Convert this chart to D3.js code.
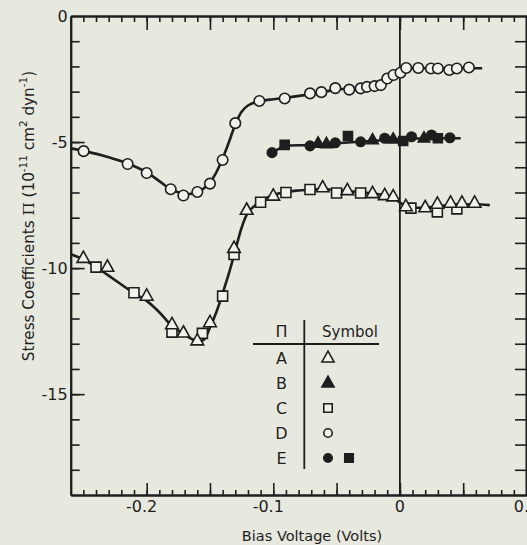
<!DOCTYPE html>
<html><head><meta charset="utf-8">
<script src="https://cdn.jsdelivr.net/npm/d3@7"></script>
<style>
html,body{margin:0;padding:0;background:#e7e8de;}
svg{display:block;}
text{font-family:"DejaVu Sans","Noto Sans",sans-serif;fill:#1e1e1e;}
</style></head>
<body>
<svg id="c" width="527" height="545"></svg>
<script>
// ---- data (bias voltage V, stress coefficient 1e-11 cm^2/dyn) ----
const seriesA = [ // open triangles
  [-0.250,-9.61],[-0.231,-9.96],[-0.200,-11.11],[-0.180,-12.24],[-0.171,-12.57],
  [-0.160,-12.88],[-0.150,-12.16],[-0.131,-9.21],[-0.121,-7.70],[-0.100,-7.14],
  [-0.061,-6.81],[-0.0415,-6.92],[-0.0216,-7.04],[-0.012,-7.12],[-0.0053,-7.17],
  [0.0047,-7.56],[0.020,-7.60],[0.0296,-7.46],[0.040,-7.42],[0.049,-7.42],[0.059,-7.42]
];
const seriesB = [ // filled triangles
  [-0.0646,-5.05],[-0.058,-5.07],[-0.0216,-4.92],[-0.0053,-4.89],[0.019,-4.85]
];
const seriesC = [ // open squares
  [-0.240,-9.96],[-0.210,-10.98],[-0.180,-12.54],[-0.156,-12.59],[-0.140,-11.11],
  [-0.131,-9.46],[-0.110,-7.39],[-0.090,-7.00],[-0.071,-6.88],[-0.050,-7.02],
  [-0.031,-7.02],[0.0087,-7.62],[0.0296,-7.77],[0.045,-7.65]
];
const seriesD = [ // open circles
  [-0.2498,-5.36],[-0.215,-5.87],[-0.200,-6.23],[-0.181,-6.87],[-0.171,-7.12],
  [-0.160,-6.98],[-0.150,-6.65],[-0.140,-5.71],[-0.130,-4.25],[-0.111,-3.37],
  [-0.091,-3.27],[-0.071,-3.07],[-0.062,-3.02],[-0.051,-2.86],[-0.040,-2.92],
  [-0.031,-2.87],[-0.026,-2.81],[-0.020,-2.78],[-0.015,-2.74],[-0.010,-2.48],
  [-0.005,-2.34],[0.0005,-2.25],[0.005,-2.06],[0.0145,-2.06],[0.0245,-2.08],
  [0.030,-2.08],[0.039,-2.14],[0.045,-2.08],[0.0545,-2.04]
];
const seriesE_circles = [ // filled circles
  [-0.101,-5.42],[-0.071,-5.15],[-0.051,-5.03],[-0.031,-4.99],[-0.012,-4.85],
  [0.0092,-4.79],[0.025,-4.72],[0.0395,-4.83]
];
const seriesE_squares = [ // filled squares
  [-0.091,-5.11],[-0.041,-4.76],[0.0026,-4.96],[0.030,-4.85]
];
// smooth drawn curves
const fitAC = [
  [-0.26,-9.45],[-0.25,-9.65],[-0.24,-9.95],[-0.23,-10.3],[-0.22,-10.65],[-0.21,-11.0],
  [-0.20,-11.3],[-0.19,-11.75],[-0.18,-12.3],[-0.17,-12.65],[-0.16,-12.9],[-0.155,-12.85],
  [-0.15,-12.35],[-0.145,-11.75],[-0.14,-11.0],[-0.135,-10.2],[-0.13,-9.3],[-0.125,-8.4],
  [-0.12,-7.8],[-0.11,-7.35],[-0.10,-7.1],[-0.09,-6.98],[-0.08,-6.92],[-0.07,-6.88],
  [-0.06,-6.87],[-0.05,-6.9],[-0.04,-6.95],[-0.03,-7.0],[-0.02,-7.05],[-0.01,-7.12],
  [-0.005,-7.2],[0.0,-7.4],[0.005,-7.55],[0.01,-7.6],[0.02,-7.6],[0.03,-7.55],
  [0.04,-7.5],[0.05,-7.48],[0.06,-7.47],[0.071,-7.5]
];
const fitD = [
  [-0.26,-5.25],[-0.25,-5.35],[-0.23,-5.6],[-0.215,-5.85],[-0.2,-6.2],[-0.19,-6.55],
  [-0.18,-6.9],[-0.17,-7.05],[-0.16,-7.0],[-0.15,-6.6],[-0.145,-6.2],[-0.14,-5.65],
  [-0.135,-5.0],[-0.13,-4.3],[-0.125,-3.8],[-0.12,-3.55],[-0.11,-3.37],[-0.10,-3.3],
  [-0.09,-3.24],[-0.07,-3.1],[-0.05,-2.92],[-0.03,-2.85],[-0.02,-2.78],[-0.01,-2.55],
  [0.0,-2.25],[0.005,-2.12],[0.01,-2.07],[0.03,-2.08],[0.05,-2.06],[0.065,-2.07]
];
const fitBE = [
  [-0.101,-5.42],[-0.095,-5.25],[-0.09,-5.15],[-0.07,-5.12],[-0.05,-5.05],
  [-0.02,-4.95],[0.0,-4.88],[0.02,-4.85],[0.048,-4.85]
];
const xMajorTicks = [-0.2,-0.15,-0.1,-0.05,0,0.05,0.1];
const xTickLabels = [[-0.2,"-0.2"],[-0.1,"-0.1"],[0,"0"],[0.1,"0.1"]];
const yMajorTicks = [0,-5,-10,-15];
const yTickLabels = ["0","-5","-10","-15"];
const legendLetters = ["A","B","C","D","E"];
const legendSymbols = [["tri-open"],["tri-fill"],["sq-open"],["circ-open"],["circ-fill","sq-fill"]];

// ---- drawing ----
const ink = "#1e1e1e";
const svg = d3.select("#c");
const x = d3.scaleLinear().domain([-0.26, 0.1]).range([70.7, 526.5]);
const y = d3.scaleLinear().domain([-19, 0]).range([495, 16]);
const xMinor = d3.range(-25, 10).map(i => i / 100);
const yMinor = d3.range(-18, 0);

function styleAxis(g){
  g.select(".domain").attr("stroke", ink).attr("stroke-width", 2);
  g.selectAll(".tick line").attr("stroke", ink).attr("stroke-width", 1.6);
}
// bottom
svg.append("g").attr("transform", `translate(0,${y(-19)})`)
  .call(d3.axisBottom(x).tickValues(xMinor).tickSize(-5).tickSizeOuter(0).tickFormat(""))
  .call(styleAxis);
svg.append("g").attr("transform", `translate(0,${y(-19)})`)
  .call(d3.axisBottom(x).tickValues(xMajorTicks).tickSize(-12).tickSizeOuter(0).tickFormat(""))
  .call(styleAxis);
// top
svg.append("g").attr("transform", `translate(0,${y(0)})`)
  .call(d3.axisTop(x).tickValues(xMinor).tickSize(-6).tickSizeOuter(0).tickFormat(""))
  .call(styleAxis);
svg.append("g").attr("transform", `translate(0,${y(0)})`)
  .call(d3.axisTop(x).tickValues(xMajorTicks).tickSize(-14).tickSizeOuter(0).tickFormat(""))
  .call(styleAxis);
// left
svg.append("g").attr("transform", `translate(${x(-0.26)},0)`)
  .call(d3.axisLeft(y).tickValues(yMinor).tickSize(-9).tickSizeOuter(0).tickFormat(""))
  .call(styleAxis);
svg.append("g").attr("transform", `translate(${x(-0.26)},0)`)
  .call(d3.axisLeft(y).tickValues(yMajorTicks.slice(1)).tickSize(-14).tickSizeOuter(0).tickFormat(""))
  .call(styleAxis);
// right
svg.append("g").attr("transform", `translate(${x(0.1)-0.5},0)`)
  .call(d3.axisRight(y).tickValues(yMinor).tickSize(-11).tickSizeOuter(0).tickFormat(""))
  .call(styleAxis);
// zero line
svg.append("line").attr("x1", x(0)).attr("x2", x(0)).attr("y1", y(0)).attr("y2", y(-19))
  .attr("stroke", ink).attr("stroke-width", 1.8);

// tick labels
svg.append("g").selectAll("text").data(yMajorTicks).join("text")
  .attr("x", x(-0.26) - 3).attr("y", d => y(d)).attr("dy", "0.36em")
  .attr("text-anchor", "end").attr("font-size", 16).text((d, i) => yTickLabels[i]);
svg.append("g").selectAll("text").data(xTickLabels).join("text")
  .attr("x", d => x(d[0]) - (d[0] < 0 ? 5 : 0)).attr("y", y(-19) + 17)
  .attr("text-anchor", "middle").attr("font-size", 16).text(d => d[1]);

// axis titles
svg.append("text").attr("x", 312).attr("y", 541).attr("text-anchor", "middle")
  .attr("font-size", 14.5).text("Bias Voltage (Volts)");
const yl = svg.append("text").attr("transform", "translate(34,216) rotate(-90)")
  .attr("text-anchor", "middle").attr("font-size", 15.2);
yl.append("tspan").text("Stress Coefficients ");
yl.append("tspan").attr("font-family", "DejaVu Serif, serif").text("Π");
yl.append("tspan").text(" (10");
yl.append("tspan").attr("font-size", 10.5).attr("dy", -7).text("-11");
yl.append("tspan").attr("dy", 7).text(" cm");
yl.append("tspan").attr("font-size", 10.5).attr("dy", -7).text("2");
yl.append("tspan").attr("dy", 7).text(" dyn");
yl.append("tspan").attr("font-size", 10.5).attr("dy", -7).text("-1");
yl.append("tspan").attr("dy", 7).text(")");

// curves
const line = d3.line().x(d => x(d[0])).y(d => y(d[1])).curve(d3.curveCatmullRom.alpha(0.5));
[fitAC, fitD, fitBE].forEach(f => svg.append("path").attr("d", line(f))
  .attr("fill", "none").attr("stroke", ink).attr("stroke-width", 2.6));

// markers
const triPath = s => `M0,${-s*0.62}L${s*0.55},${s*0.36}L${-s*0.55},${s*0.36}Z`;
function drawMarkers(data, kind, size){
  const g = svg.append("g");
  const sel = g.selectAll("path").data(data).join("path")
    .attr("transform", d => `translate(${x(d[0])},${y(d[1])})`);
  setShape(sel, kind, size);
}
function setShape(sel, kind, s){
  const filled = kind.endsWith("fill");
  let d;
  if (kind.startsWith("tri")) d = triPath(s);
  else if (kind.startsWith("sq")) d = `M${-s/2},${-s/2}h${s}v${s}h${-s}Z`;
  else d = `M${s/2},0A${s/2},${s/2} 0 1,1 ${-s/2},0A${s/2},${s/2} 0 1,1 ${s/2},0Z`;
  sel.attr("d", d).attr("fill", filled ? ink : "#f2f2ea").attr("stroke", ink).attr("stroke-width", 1.6);
}
drawMarkers(seriesC, "sq-open", 10);
drawMarkers(seriesA, "tri-open", 11.5);
drawMarkers(seriesD, "circ-open", 10.5);
drawMarkers(seriesE_circles, "circ-fill", 9.5);
drawMarkers(seriesE_squares, "sq-fill", 9);
drawMarkers(seriesB, "tri-fill", 10.5);

// legend
const lg = svg.append("g");
lg.append("line").attr("x1", 253).attr("x2", 379).attr("y1", 344).attr("y2", 344)
  .attr("stroke", ink).attr("stroke-width", 1.8);
lg.append("line").attr("x1", 304.3).attr("x2", 304.3).attr("y1", 320).attr("y2", 469)
  .attr("stroke", ink).attr("stroke-width", 1.8);
lg.append("text").attr("x", 281.5).attr("y", 337).attr("text-anchor", "middle")
  .attr("font-family", "DejaVu Serif, serif").attr("font-size", 16).text("Π");
lg.append("text").attr("x", 350).attr("y", 337).attr("text-anchor", "middle")
  .attr("font-size", 15).text("Symbol");
legendLetters.forEach((L, i) => {
  const yy = 358 + i * 25;
  lg.append("text").attr("x", 281.5).attr("y", yy).attr("dy", "0.36em")
    .attr("text-anchor", "middle").attr("font-size", 16).text(L);
  legendSymbols[i].forEach((k, j) => {
    const p = lg.append("path").attr("transform", `translate(${328 + j*21},${yy})`);
    setShape(p, k, k.startsWith("tri") ? 11 : 8.5);
  });
});
</script>
</body></html>
